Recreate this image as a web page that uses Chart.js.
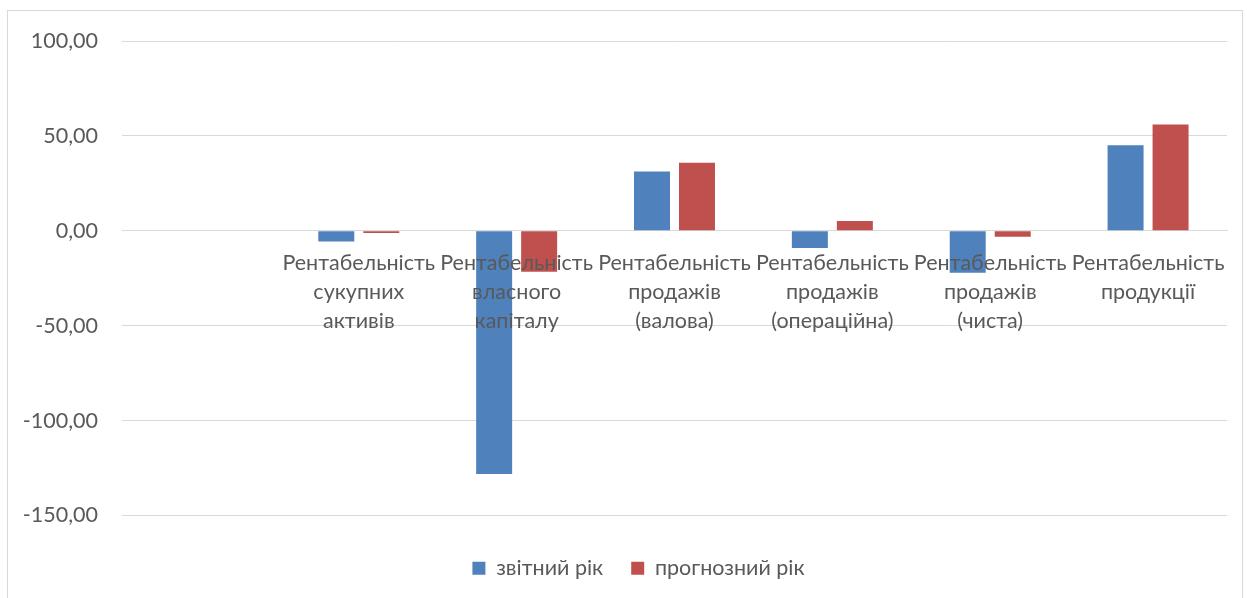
<!DOCTYPE html>
<html>
<head>
<meta charset="utf-8">
<script src="https://cdn.jsdelivr.net/npm/chart.js@4/dist/chart.umd.min.js"></script>
<style>
  html, body { margin: 0; padding: 0; background: #fff; overflow: hidden; }
  #frame { position: absolute; left: 7px; top: 10px; right: 4px; bottom: -5px; border: 1px solid #d9d9d9; }
  #wrap { position: absolute; left: 0; top: 0; width: 1247px; height: 598px; }
</style>
</head>
<body>
<div id="frame"></div>
<div id="wrap"><canvas id="chart"></canvas></div>
<script>
const categories = [
    '',
    ['Рентабельність', 'сукупних', 'активів'],
    ['Рентабельність', 'власного', 'капіталу'],
    ['Рентабельність', 'продажів', '(валова)'],
    ['Рентабельність', 'продажів', '(операційна)'],
    ['Рентабельність', 'продажів', '(чиста)'],
    ['Рентабельність', 'продукції']
];
const reportYear = [null, -5.6, -128.1, 31.2, -9.0, -22.1, 45.1];
const forecastYear = [null, -1.1, -21.6, 35.8, 5.1, -3.2, 56.0];
const seriesNames = ['звітний рік', 'прогнозний рік'];
const yTicks = { min: -150, max: 100, step: 50 };

const textColor = '#595959';
const gridColor = '#d9d9d9';
const fontFamily = 'Lato, "Open Sans", sans-serif';
const fontSize = 21.5;

// Excel centres the legend a little to the right of the canvas centre
const shiftLegend = {
    id: 'shiftLegend',
    afterLayout(chart) {
        chart.legend.left += 25;
        chart.legend.right += 25;
    }
};

const ctx = document.getElementById('chart').getContext('2d');
new Chart(ctx, {
    type: 'bar',
    data: {
        labels: categories,
        datasets: [
            { label: seriesNames[0], data: reportYear, backgroundColor: '#4f81bd' },
            { label: seriesNames[1], data: forecastYear, backgroundColor: '#c0504d' }
        ]
    },
    options: {
        responsive: true,
        maintainAspectRatio: false,
        animation: false,
        categoryPercentage: 0.57,
        barPercentage: 0.8,
        layout: { padding: { left: 0, right: 20, top: 41, bottom: 9 } },
        scales: {
            x: {
                position: { y: 0 },
                grid: { display: false, drawTicks: false },
                border: { display: true, color: gridColor },
                ticks: {
                    z: 1,
                    autoSkip: false,
                    maxRotation: 0,
                    minRotation: 0,
                    padding: 18,
                    color: textColor,
                    font: { family: fontFamily, size: fontSize, lineHeight: '29px' }
                }
            },
            y: {
                min: yTicks.min,
                max: yTicks.max,
                grid: { color: gridColor, drawTicks: false },
                border: { display: false },
                ticks: {
                    stepSize: yTicks.step,
                    padding: 24,
                    color: textColor,
                    font: { family: fontFamily, size: fontSize },
                    callback: value => value.toFixed(2).replace('.', ',')
                },
                afterFit: scale => { scale.width = 122; }
            }
        },
        plugins: {
            tooltip: { enabled: false },
            legend: {
                position: 'bottom',
                title: { display: true, text: '', font: { size: 10 }, padding: 1 },
                labels: {
                    boxWidth: 13,
                    boxHeight: 13,
                    padding: 28,
                    color: textColor,
                    font: { family: fontFamily, size: fontSize }
                }
            }
        }
    },
    plugins: [shiftLegend]
});
</script>
</body>
</html>
